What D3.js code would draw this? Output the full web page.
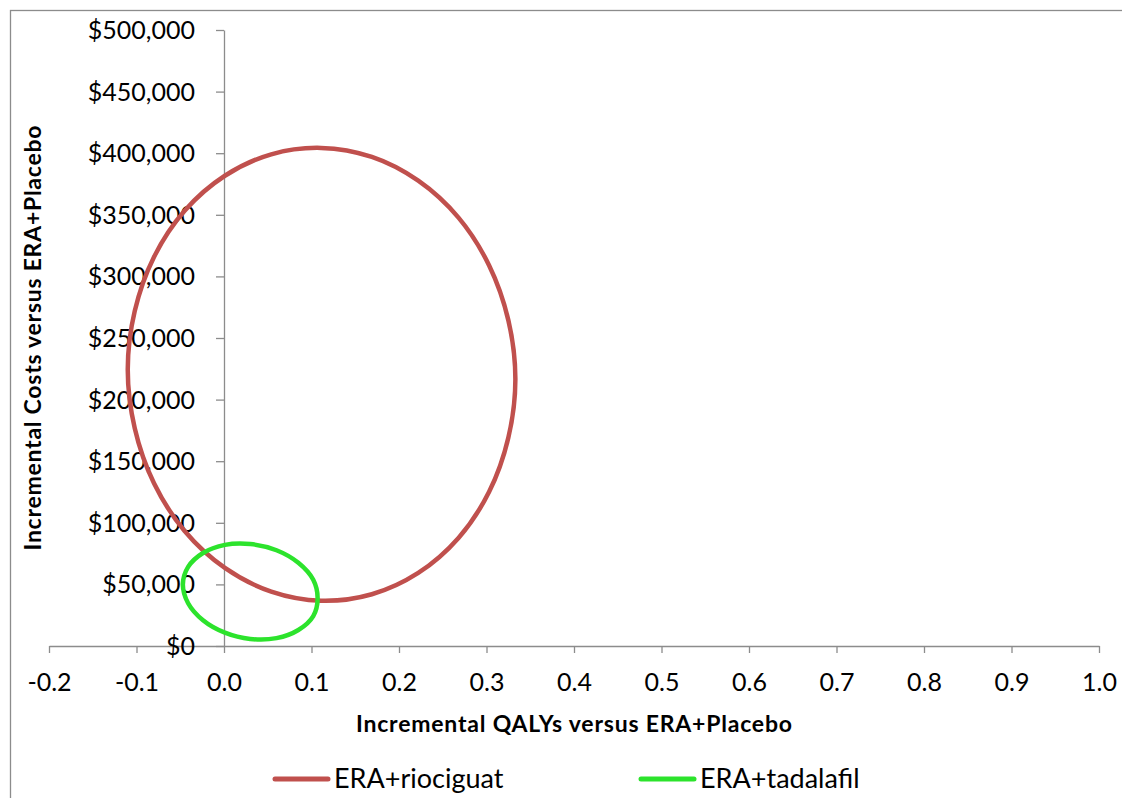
<!DOCTYPE html>
<meta charset="utf-8">
<style>
  body { margin: 0; background: #fff; }
  text { font-family: Lato, "Liberation Sans", sans-serif; fill: #000; }
  .axis path, .axis line { stroke: #8c8c8c; stroke-width: 1.3px; }
  .tick-label { font-size: 25px; }
  .title { font-size: 23px; font-weight: bold; }
  .legend text { font-size: 27px; }
</style>
<body>
<script src="https://d3js.org/d3.v7.min.js"></script>
<script>
// confidence ellipse outlines
var riociguatQaly = [0.333, 0.325, 0.303, 0.268, 0.222, 0.169, 0.111, 0.054, 0.001, -0.045, -0.080, -0.102,
                     -0.110, -0.102, -0.080, -0.045, 0.001, 0.054, 0.111, 0.169, 0.222, 0.268, 0.303, 0.325];
var riociguatCost = [216600, 169200, 125200, 87700, 59300, 42000, 36700, 44100, 63400, 93400, 132100, 176800,
                     224500, 271900, 315800, 353300, 381700, 399100, 404300, 397000, 377700, 347700, 308900, 264300];

var tadalafilQaly = [0.107, 0.102, 0.085, 0.060, 0.030, 0.001, -0.024, -0.041,
                     -0.047, -0.041, -0.024, 0.001, 0.030, 0.060, 0.085, 0.102];
var tadalafilCost = [38600, 24300, 13000, 6400, 5700, 10800, 20900, 34700,
                     49900, 64200, 75500, 82100, 82800, 77700, 67500, 53700];

var seriesNames = ["ERA+riociguat", "ERA+tadalafil"];
var seriesColors = ["#c0504d", "#2ce32c"];

var xTicks = [-0.2, -0.1, 0.0, 0.1, 0.2, 0.3, 0.4, 0.5, 0.6, 0.7, 0.8, 0.9, 1.0];
var yTicks = [0, 50000, 100000, 150000, 200000, 250000, 300000, 350000, 400000, 450000, 500000];

// page size
var width = 1122, height = 798;

var svg = d3.select("body").append("svg")
    .attr("width", width)
    .attr("height", height);

// outer chart frame (only left and top edges show in the picture)
svg.append("rect")
    .attr("x", 10.5).attr("y", 10.5)
    .attr("width", 1140).attr("height", 820)
    .attr("fill", "none")
    .attr("stroke", "#8c8c8c")
    .attr("stroke-width", 1.3);

var x = d3.scaleLinear().domain([-0.2, 1.0]).range([49, 1099]);
var y = d3.scaleLinear().domain([0, 500000]).range([646, 30]);

// x axis sits at y = 0
var xAxis = svg.append("g")
    .attr("class", "axis")
    .attr("transform", "translate(0," + y(0) + ")")
    .call(d3.axisBottom(x).tickValues(xTicks).tickSize(7).tickSizeOuter(0)
        .tickFormat(function(d) { return d.toFixed(1); }));
xAxis.selectAll("text")
    .attr("class", "tick-label")
    .attr("y", 45)
    .attr("dy", 0);

// y axis crosses at x = 0
var yAxis = svg.append("g")
    .attr("class", "axis")
    .attr("transform", "translate(" + x(0) + ",0)")
    .call(d3.axisLeft(y).tickValues(yTicks).tickSize(8).tickSizeOuter(0));
yAxis.selectAll("text").remove();

// y labels hang at the left, not at the axis
svg.append("g").selectAll("text")
    .data(yTicks)
    .enter().append("text")
    .attr("class", "tick-label")
    .attr("x", 195)
    .attr("y", function(d) { return y(d); })
    .attr("dy", "0.36em")
    .attr("text-anchor", "end")
    .text(function(d) { return "$" + d3.format(",")(d); });

// axis titles
svg.append("text")
    .attr("class", "title")
    .attr("x", 574)
    .attr("y", 732)
    .attr("text-anchor", "middle")
    .attr("textLength", 436)
    .attr("lengthAdjust", "spacing")
    .text("Incremental QALYs versus ERA+Placebo");

svg.append("text")
    .attr("class", "title")
    .attr("transform", "translate(41,338) rotate(-90)")
    .attr("text-anchor", "middle")
    .attr("textLength", 425)
    .attr("lengthAdjust", "spacing")
    .text("Incremental Costs versus ERA+Placebo");

// ellipses
var line = d3.line()
    .x(function(d) { return x(d[0]); })
    .y(function(d) { return y(d[1]); })
    .curve(d3.curveCatmullRomClosed.alpha(0.5));

var series = [
    d3.zip(riociguatQaly, riociguatCost),
    d3.zip(tadalafilQaly, tadalafilCost)
];

svg.append("g").selectAll("path")
    .data(series)
    .enter().append("path")
    .attr("d", line)
    .attr("fill", "none")
    .attr("stroke", function(d, i) { return seriesColors[i]; })
    .attr("stroke-width", 4.5);

// legend
var legendX = [275, 641];
var legend = svg.append("g").attr("class", "legend")
    .selectAll("g")
    .data(seriesNames)
    .enter().append("g")
    .attr("transform", function(d, i) { return "translate(" + legendX[i] + ",779)"; });

legend.append("line")
    .attr("x1", 0).attr("x2", 53)
    .attr("stroke", function(d, i) { return seriesColors[i]; })
    .attr("stroke-width", 5)
    .attr("stroke-linecap", "round");

legend.append("text")
    .attr("x", 59)
    .attr("y", 9)
    .text(function(d) { return d; });
</script>
</body>
